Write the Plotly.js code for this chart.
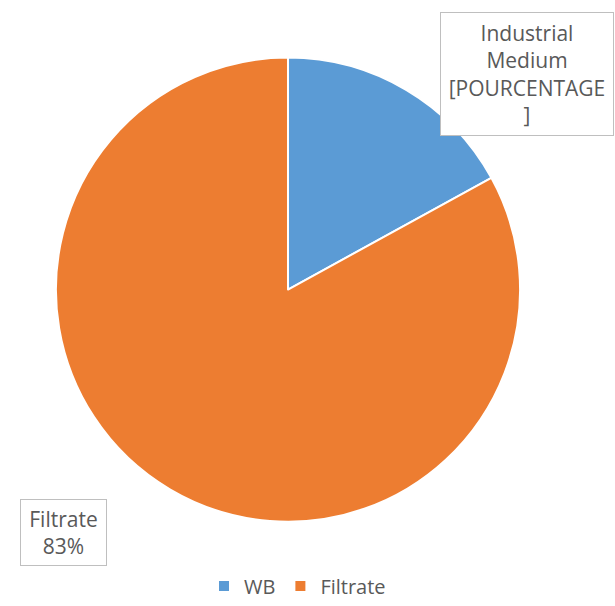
<!DOCTYPE html>
<html>
<head>
<meta charset="utf-8">
<script src="https://cdn.plot.ly/plotly-3.0.1.min.js"></script>
<style>html,body{margin:0;padding:0;background:#fff;}#chart{width:615px;height:606px;}</style>
</head>
<body>
<div id="chart"></div>
<script>
const categories = ["WB", "Filtrate"];
const values = [17, 83];
const colors = ["#5B9BD5", "#ED7D31"];
const labelTexts = ["Industrial<br>Medium<br>[POURCENTAGE<br>]", "Filtrate<br>83%"];

const W = 615, H = 606;
const data = [{
  type: "pie",
  labels: categories,
  values: values,
  sort: false,
  direction: "clockwise",
  rotation: 0,
  textinfo: "none",
  hoverinfo: "label+percent",
  marker: {colors: colors, line: {color: "#ffffff", width: 2}},
  domain: {x: [54/W, 522/W], y: [(H-526)/H, (H-58)/H]}
}];

const layout = {
  width: W, height: H,
  margin: {l: 0, r: 0, t: 0, b: 0},
  paper_bgcolor: "#ffffff",
  font: {family: "Open Sans, Liberation Sans, sans-serif", color: "#595959"},
  showlegend: true,
  legend: {
    orientation: "h", x: 204/W, xanchor: "left", y: (H-591)/H, yanchor: "middle",
    font: {size: 20, color: "#595959"}, itemwidth: 30, traceorder: "normal"
  },
  annotations: [
    {text: labelTexts[0], xref: "paper", yref: "paper", x: 527/W, y: (H-75)/H,
     xanchor: "center", yanchor: "middle", showarrow: false, width: 170, height: 120,
     bordercolor: "#BFBFBF", borderwidth: 1, bgcolor: "#ffffff",
     font: {size: 21, color: "#595959"}},
    {text: labelTexts[1], xref: "paper", yref: "paper", x: 63.5/W, y: (H-536.5)/H,
     xanchor: "center", yanchor: "middle", showarrow: false, width: 83, height: 63,
     bordercolor: "#BFBFBF", borderwidth: 1, bgcolor: "#ffffff",
     font: {size: 21, color: "#595959"}}
  ]
};
Plotly.newPlot("chart", data, layout, {displayModeBar: false});
</script>
</body>
</html>
